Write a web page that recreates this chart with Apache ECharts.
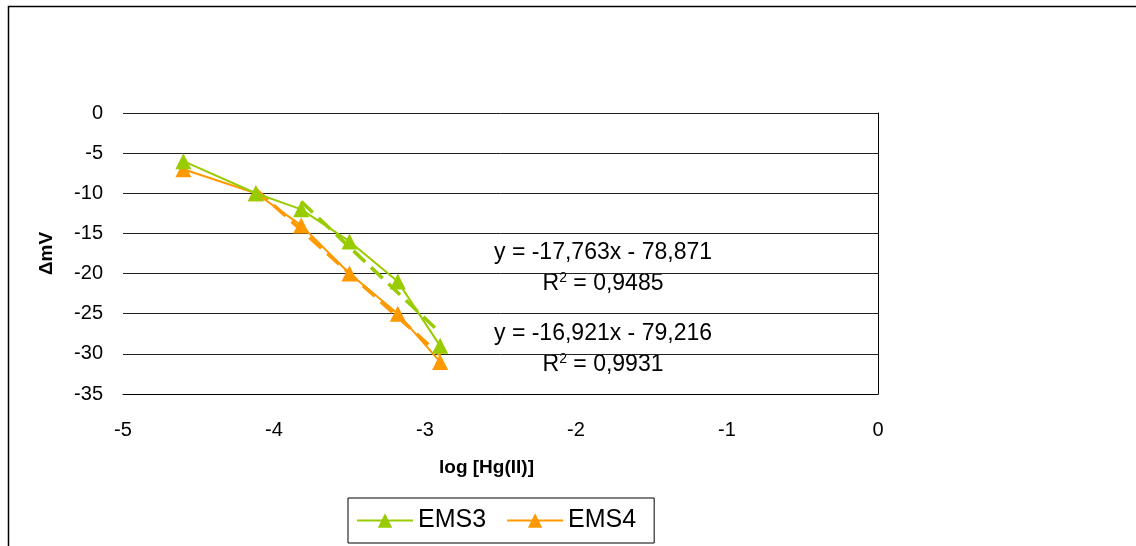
<!DOCTYPE html>
<html>
<head>
<meta charset="utf-8">
<script src="https://cdn.jsdelivr.net/npm/echarts@6/dist/echarts.min.js"></script>
<style>
  html, body { margin: 0; padding: 0; background: #fff; }
  #chart { width: 1136px; height: 546px; }
</style>
</head>
<body>
<div id="chart"></div>
<script>
// log [Hg(II)] values and ΔmV readings
var logConc = [-4.6, -4.12, -3.82, -3.5, -3.18, -2.9];
var ems3 = [-6, -10, -12, -16, -21, -29];
var ems4 = [-7, -10, -14, -20, -25, -31];

// linear trendlines (Excel), fitted from a start point to the last point
var trendSlope = [-17.763, -16.921];
var trendIntercept = [-78.871, -79.216];
var trendFrom = [-3.82, -4.12];
var trendTo = [-2.9, -2.9];
var trendEq = ['y = -17,763x - 78,871', 'y = -16,921x - 79,216'];
var trendR2 = ['0,9485', '0,9931'];

var xTicks = [-5, -4, -3, -2, -1, 0];

var colorGreen = '#99CC00';
var colorOrange = '#FF9900';
var font = 'Liberation Sans, Arial, sans-serif';

function pts(ys) {
  return logConc.map(function (x, i) { return [x, ys[i]]; });
}
function trend(i) {
  return [trendFrom[i], trendTo[i]].map(function (x) {
    return [x, trendSlope[i] * x + trendIntercept[i]];
  });
}
// equation + R² labels, stacked under each other
function eqText(i, y) {
  return [
    {
      type: 'text', x: 603, y: y,
      style: { text: trendEq[i], fill: '#000', font: '23px ' + font, align: 'center', verticalAlign: 'middle' }
    },
    {
      type: 'text', x: 603, y: y + 31,
      style: {
        text: 'R{s|2} = ' + trendR2[i],
        fill: '#000', font: '23px ' + font, align: 'center', verticalAlign: 'middle',
        rich: { s: { fontSize: 14, fontFamily: font, padding: [0, 0, 11, 0] } }
      }
    }
  ];
}

var myChart = echarts.init(document.getElementById('chart'));
var option = {
  backgroundColor: '#fff',
  animation: false,
  textStyle: { fontFamily: font },
  grid: { left: 123, right: 258, top: 113, bottom: 152 },
  xAxis: {
    type: 'value',
    min: xTicks[0],
    max: xTicks[xTicks.length - 1],
    interval: 1,
    name: 'log [Hg(II)]',
    nameLocation: 'middle',
    nameGap: 64,
    nameTextStyle: { color: '#000', fontSize: 19, fontWeight: 'bold', fontFamily: font, padding: [0, 28, 0, 0] },
    axisLine: { show: true, onZero: false, lineStyle: { color: '#000', width: 1 } },
    axisTick: { show: false },
    axisLabel: { color: '#000', fontSize: 20, margin: 26, fontFamily: font },
    splitLine: { show: false }
  },
  yAxis: [
    {
      type: 'value',
      min: -35,
      max: 0,
      interval: 5,
      name: 'ΔmV',
      nameLocation: 'middle',
      nameGap: 67,
      nameTextStyle: { color: '#000', fontSize: 19, fontWeight: 'bold', fontFamily: font },
      axisLine: { show: false },
      axisTick: { show: false },
      axisLabel: { color: '#000', fontSize: 20, margin: 20, fontFamily: font },
      splitLine: { show: true, lineStyle: { color: '#222', width: 1 } }
    },
    {
      type: 'value',
      position: 'right',
      min: -35,
      max: 0,
      axisLine: { show: true, lineStyle: { color: '#000', width: 1 } },
      axisTick: { show: false },
      axisLabel: { show: false },
      splitLine: { show: false }
    }
  ],
  legend: {
    data: ['EMS3', 'EMS4'],
    left: 348,
    top: 498,
    orient: 'horizontal',
    borderColor: '#000',
    borderWidth: 1,
    borderRadius: 0,
    padding: [10, 18, 10, 8],
    itemGap: 20,
    itemWidth: 56,
    itemHeight: 18,
    textStyle: { color: '#000', fontSize: 25, fontFamily: font }
  },
  series: [
    {
      name: 'EMS3-trend',
      type: 'line',
      data: trend(0),
      symbol: 'none',
      silent: true,
      lineStyle: { color: colorGreen, width: 3.5, type: [16, 8] },
      z: 1
    },
    {
      name: 'EMS4-trend',
      type: 'line',
      data: trend(1),
      symbol: 'none',
      silent: true,
      lineStyle: { color: colorOrange, width: 3.5, type: [16, 8] },
      z: 1
    },
    {
      name: 'EMS3',
      type: 'line',
      data: pts(ems3),
      symbol: 'triangle',
      symbolSize: 16,
      lineStyle: { color: colorGreen, width: 2 },
      itemStyle: { color: colorGreen },
      z: 3
    },
    {
      name: 'EMS4',
      type: 'line',
      data: pts(ems4),
      symbol: 'triangle',
      symbolSize: 16,
      lineStyle: { color: colorOrange, width: 2 },
      itemStyle: { color: colorOrange },
      z: 2
    }
  ],
  graphic: [
    {
      type: 'rect',
      shape: { x: 8.5, y: 6.5, width: 1300, height: 700 },
      style: { fill: 'none', stroke: '#000', lineWidth: 1.5 },
      silent: true
    }
  ].concat(eqText(0, 253), eqText(1, 334))
};
option && myChart.setOption(option);
</script>
</body>
</html>
